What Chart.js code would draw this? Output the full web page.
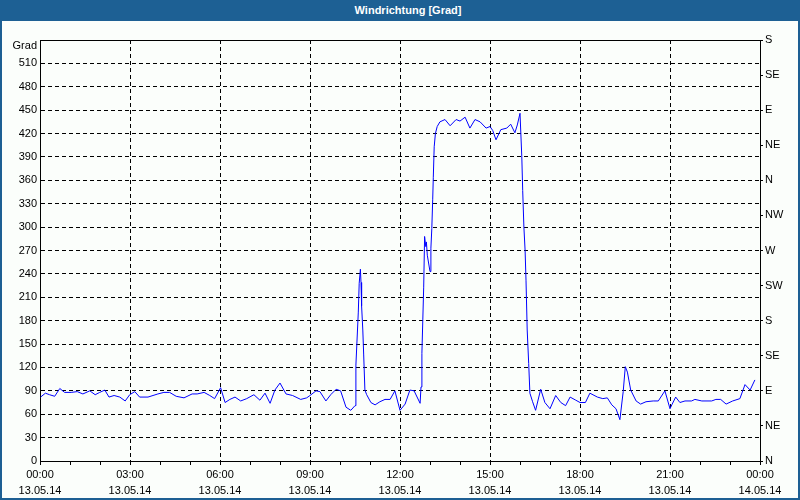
<!DOCTYPE html>
<html>
<head>
<meta charset="utf-8">
<script src="https://cdn.jsdelivr.net/npm/chart.js@4.4.1/dist/chart.umd.min.js"></script>
<style>
    body { margin: 0; }
    #frame {
        position: absolute; left: 0; top: 0; width: 800px; height: 500px;
        box-sizing: border-box; border: 2px solid #1d5f93; background: #fbfefb;
    }
    #title {
        position: absolute; left: 0; top: 0; width: 800px; height: 21px;
        background: #1d6094; color: #fff; font: bold 11px "Liberation Sans", Arial, sans-serif;
        line-height: 21px; text-align: center; padding-left: 16px; box-sizing: border-box;
    }
    #chart { position: absolute; left: 0; top: 0; }
</style>
</head>
<body>
<div id="frame"></div>
<div id="title">Windrichtung [Grad]</div>
<canvas id="chart" width="800" height="500"></canvas>
<script>
// time of day in hours (13.05.14), wind direction in degrees
const times = [
    0.02, 0.18, 0.32, 0.49, 0.66, 0.82, 1.04, 1.24, 1.43, 1.66, 1.84, 1.99,
    2.16, 2.30, 2.47, 2.66, 2.84, 2.99, 3.16, 3.32, 3.60, 3.93, 4.13, 4.32,
    4.54, 4.80, 5.07, 5.24, 5.47, 5.66, 5.82, 6.02, 6.17, 6.33, 6.50, 6.69,
    6.89, 7.13, 7.33, 7.50, 7.67, 7.83, 8.00, 8.20, 8.42, 8.69, 8.89, 9.00,
    9.20, 9.33, 9.53, 9.69, 9.87, 10.02, 10.20, 10.36, 10.50, 10.53, 10.61, 10.64,
    10.68, 10.70, 10.72, 10.76, 10.79, 10.83, 10.89, 11.03, 11.17, 11.33, 11.50, 11.67,
    11.83, 12.00, 12.17, 12.33, 12.47, 12.67, 12.70, 12.73, 12.76, 12.79, 12.82, 12.86,
    12.88, 12.91, 13.00, 13.03, 13.06, 13.09, 13.11, 13.14, 13.18, 13.24, 13.33, 13.50,
    13.67, 13.87, 14.00, 14.17, 14.33, 14.50, 14.67, 14.87, 15.00, 15.09, 15.20, 15.36,
    15.56, 15.69, 15.83, 15.91, 16.00, 16.06, 16.09, 16.13, 16.17, 16.20, 16.24, 16.29,
    16.33, 16.42, 16.52, 16.69, 16.83, 17.00, 17.19, 17.36, 17.52, 17.67, 17.86, 18.00,
    18.18, 18.33, 18.58, 18.76, 18.91, 19.06, 19.20, 19.33, 19.44, 19.51, 19.58, 19.69,
    19.87, 20.02, 20.20, 20.44, 20.61, 20.83, 21.00, 21.06, 21.19, 21.33, 21.50, 21.72,
    21.83, 22.06, 22.39, 22.53, 22.69, 22.87, 23.09, 23.33, 23.50, 23.67, 23.83
];
const degrees = [
    82, 87, 85, 83, 93, 88, 88, 89, 86, 90, 85, 88,
    91, 82, 84, 82, 77, 85, 89, 82, 82, 86, 88, 88,
    83, 81, 86, 86, 88, 84, 80, 94, 75, 79, 82, 77,
    80, 85, 78, 87, 74, 91, 100, 86, 84, 79, 81, 84,
    90, 89, 77, 85, 92, 90, 69, 65, 71, 123, 191, 228,
    246, 229, 199, 168, 136, 91, 85, 75, 72, 76, 79, 79,
    90, 65, 73, 91, 90, 74, 95, 138, 181, 223, 288, 275,
    281, 264, 243, 273, 298, 335, 364, 403, 420, 429, 435, 438,
    430, 438, 436, 441, 427, 438, 435, 427, 429, 424, 412, 425,
    427, 432, 421, 431, 446, 390, 347, 300, 270, 232, 168, 125,
    87, 76, 65, 92, 75, 67, 84, 75, 71, 82, 78, 75,
    75, 87, 82, 80, 81, 72, 67, 53, 89, 121, 114, 91,
    77, 73, 76, 77, 77, 90, 67, 72, 82, 75, 77, 77,
    79, 77, 77, 79, 79, 73, 77, 80, 98, 91, 104
];
const hourLabels = ['00:00', '03:00', '06:00', '09:00', '12:00', '15:00', '18:00', '21:00', '00:00'];
const dateLabels = ['13.05.14', '13.05.14', '13.05.14', '13.05.14', '13.05.14', '13.05.14', '13.05.14', '13.05.14', '14.05.14'];
const compassLabels = ['N', 'NE', 'E', 'SE', 'S', 'SW', 'W', 'NW', 'N', 'NE', 'E', 'SE', 'S'];

const font = { family: '"Liberation Sans", Arial, sans-serif', size: 11 };

const points = times.map((t, i) => ({ x: t, y: degrees[i] }));

new Chart(document.getElementById('chart'), {
    type: 'line',
    data: {
        datasets: [{
            data: points,
            borderColor: '#0000ff',
            borderWidth: 1,
            pointRadius: 0,
            tension: 0,
            fill: false
        }]
    },
    options: {
        responsive: false,
        animation: false,
        events: [],
        layout: { padding: { top: 40, left: 0, right: 0, bottom: 0 } },
        plugins: { legend: { display: false }, tooltip: { enabled: false } },
        scales: {
            x: {
                type: 'linear', position: 'bottom', min: 0, max: 24,
                afterFit: s => { s.height = 39; },
                border: { color: '#000', width: 1, dash: [4, 3] },
                grid: {
                    color: c => (c.tick.value % 3 === 0 && c.tick.value > 0 && c.tick.value < 24) ? '#000' : 'rgba(0,0,0,0)',
                    tickColor: '#000', tickLength: 4, drawTicks: true
                },
                ticks: {
                    stepSize: 1, autoSkip: false, maxRotation: 0, color: '#000', padding: 2,
                    font: { ...font, lineHeight: '16px' },
                    callback: v => v % 3 === 0 ? [hourLabels[v / 3], dateLabels[v / 3]] : ''
                }
            },
            xTop: {
                type: 'linear', position: 'top', min: 0, max: 24,
                afterFit: s => { s.height = 0; },
                border: { color: '#000', width: 1 },
                grid: { drawOnChartArea: false, drawTicks: false },
                ticks: { display: false }
            },
            y: {
                position: 'left', min: 0, max: 540,
                afterFit: s => { s.width = 40; },
                border: { color: '#000', width: 1, dash: [4, 3] },
                grid: {
                    color: c => (c.tick.value > 0 && c.tick.value < 540) ? '#000' : 'rgba(0,0,0,0)',
                    drawTicks: false
                },
                ticks: {
                    stepSize: 30, autoSkip: false, color: '#000', padding: 3,
                    font: { ...font, lineHeight: '12px' },
                    callback: v => v === 540 ? ['', 'Grad'] : String(v)
                }
            },
            yCompass: {
                position: 'right', min: 0, max: 540,
                afterFit: s => { s.width = 40; },
                border: { color: '#000', width: 1 },
                grid: { drawOnChartArea: false, drawTicks: true, tickLength: 3, tickColor: '#000' },
                ticks: {
                    stepSize: 45, autoSkip: false, color: '#000', padding: 2, font: font,
                    callback: v => compassLabels[v / 45]
                }
            }
        }
    }
});
</script>
</body>
</html>
